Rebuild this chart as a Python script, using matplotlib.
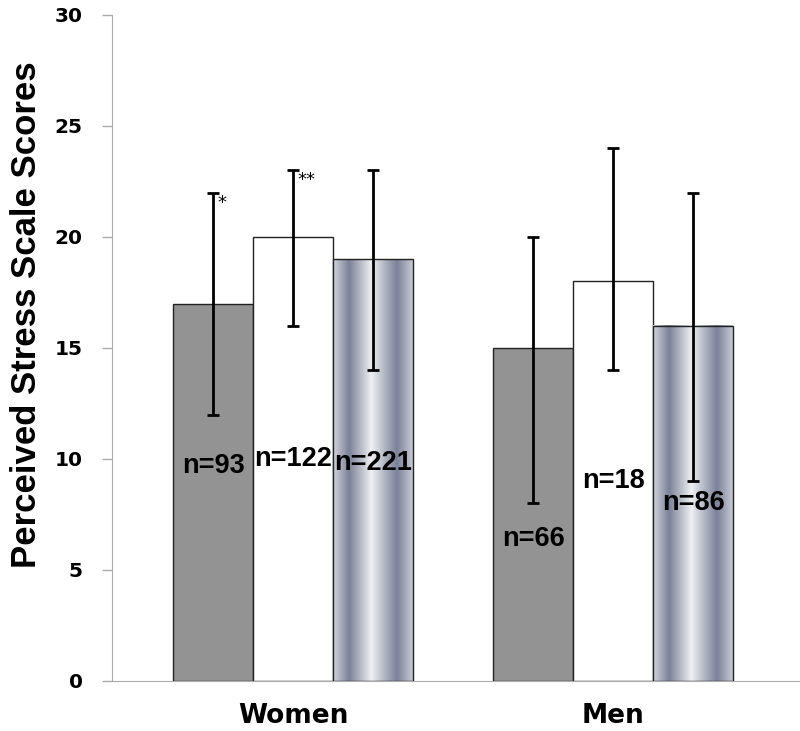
import matplotlib

matplotlib.use("Agg")
import matplotlib.pyplot as plt
import numpy as np
from matplotlib.colors import LinearSegmentedColormap

# ============================================================
# Data
# ============================================================
groups = ["Women", "Men"]
categories = ["gray", "white", "striped"]
means = {
    "gray": [17, 15],
    "white": [20, 18],
    "striped": [19, 16],
}
err_low = {
    "gray": [12, 8],
    "white": [16, 14],
    "striped": [14, 9],
}
err_high = {
    "gray": [22, 20],
    "white": [23, 24],
    "striped": [23, 22],
}
n_labels = {
    "gray": ["n=93", "n=66"],
    "white": ["n=122", "n=18"],
    "striped": ["n=221", "n=86"],
}
n_label_y = {
    "gray": [9.7, 6.4],
    "white": [10.0, 9.0],
    "striped": [9.8, 8.0],
}
stars = {"gray": ["*", ""], "white": ["**", ""], "striped": ["", ""]}

yticks = [0, 5, 10, 15, 20, 25, 30]

# ============================================================
fig = plt.figure(figsize=(8.0, 7.31), dpi=100)
ax = fig.add_axes([0.14, 0.0684, 0.86, 0.9111])

width = 0.25
offsets = {"gray": -0.25, "white": 0.0, "striped": 0.25}
x = np.arange(len(groups))

stripe_cmap = LinearSegmentedColormap.from_list(
    "stripe",
    [
        (0.0, "#d4d6dd"),
        (0.2, "#7b8198"),
        (0.48, "#eef0f2"),
        (0.8, "#7b8198"),
        (1.0, "#c8cad3"),
    ],
)
grad = np.linspace(0, 1, 256).reshape(1, -1)

for cat in categories:
    xs = x + offsets[cat]
    if cat == "gray":
        ax.bar(xs, means[cat], width, color="#939393", edgecolor="#222222",
               linewidth=1.0, zorder=2)
    elif cat == "white":
        ax.bar(xs, means[cat], width, color="white", edgecolor="#222222",
               linewidth=1.0, zorder=2)
    else:
        for xi, h in zip(xs, means[cat]):
            ax.imshow(grad, cmap=stripe_cmap, aspect="auto",
                      extent=[xi - width / 2, xi + width / 2, 0, h],
                      interpolation="bilinear", zorder=2)
        ax.bar(xs, means[cat], width, color="none", edgecolor="#222222",
               linewidth=1.0, zorder=3)

    m = np.array(means[cat])
    lo = m - np.array(err_low[cat])
    hi = np.array(err_high[cat]) - m
    ax.errorbar(xs, m, yerr=[lo, hi], fmt="none", ecolor="black",
                elinewidth=2.0, capsize=4, capthick=2.0, zorder=4)

    for xi, lab, ly in zip(xs, n_labels[cat], n_label_y[cat]):
        ax.text(xi, ly, lab, ha="center", va="center", fontsize=19.5,
                fontweight="bold", family="Liberation Sans",
                fontstretch="normal", zorder=5)
    for xi, s, top in zip(xs, stars[cat], err_high[cat]):
        if s:
            ax.text(xi + 0.015, top - 0.05, s, ha="left", va="top",
                    fontsize=13, zorder=5)

ax.set_xlim(-0.566, 1.584)
ax.set_ylim(0, 30)
ax.set_yticks(yticks)
ax.set_yticklabels([str(t) for t in yticks], fontsize=14.5,
                   fontweight="bold", family="DejaVu Sans")
ax.set_xticks(x)
ax.set_xticklabels(groups, fontsize=19, fontweight="bold",
                   family="DejaVu Sans")
ax.tick_params(axis="x", length=0, pad=16)
ax.tick_params(axis="y", length=7, width=1, color="#aaaaaa", pad=14)
ax.set_ylabel("Perceived Stress Scale Scores", fontsize=25,
              fontweight="bold", family="Liberation Sans",
              fontstretch="condensed")
ax.yaxis.set_label_coords(-0.1, 0.55)

ax.spines["top"].set_visible(False)
ax.spines["right"].set_visible(False)
ax.spines["left"].set_color("#aaaaaa")
ax.spines["bottom"].set_color("#aaaaaa")

fig.savefig("out.png", dpi=100)
